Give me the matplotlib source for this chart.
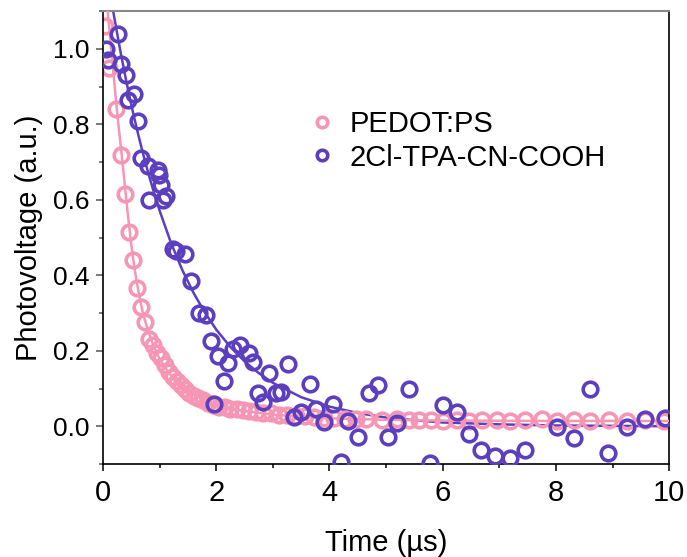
import matplotlib
matplotlib.use("Agg")
import matplotlib.pyplot as plt
from matplotlib.ticker import MultipleLocator

plt.rcParams['font.family'] = ['Liberation Sans', 'DejaVu Sans']

PINK = "#F796B4"
PURPLE = "#5B3FBE"

# PEDOT:PS transient photovoltage
pedot_t = [0.03, 0.10, 0.23, 0.32, 0.39, 0.46, 0.53, 0.60, 0.67, 0.74, 0.81, 0.88, 0.95,
           1.02, 1.09, 1.16, 1.23, 1.30, 1.37, 1.44, 1.52, 1.60, 1.68, 1.76, 1.85, 1.95,
           2.05, 2.15, 2.25, 2.36, 2.47, 2.58, 2.70, 2.83, 2.96, 3.10, 3.25, 3.40, 3.56,
           3.73, 3.90, 4.08, 4.27, 4.47, 4.65, 4.92, 5.19, 5.40, 5.58, 5.80, 6.01, 6.25,
           6.46, 6.69, 6.96, 7.19, 7.45, 7.75, 8.02, 8.32, 8.60, 8.94, 9.26, 9.58, 9.91]
pedot_v = [1.06, 0.95, 0.84, 0.72, 0.615, 0.515, 0.44, 0.367, 0.317, 0.275, 0.232, 0.215, 0.195,
           0.18, 0.163, 0.145, 0.13, 0.12, 0.108, 0.10, 0.088, 0.08, 0.075, 0.07, 0.062, 0.056,
           0.052, 0.05, 0.047, 0.045, 0.043, 0.04, 0.038, 0.036, 0.034, 0.031, 0.03, 0.028, 0.026,
           0.024, 0.023, 0.022, 0.02, 0.02, 0.018, 0.017, 0.018, 0.016, 0.017, 0.016, 0.015, 0.016,
           0.015, 0.017, 0.016, 0.015, 0.016, 0.02, 0.015, 0.016, 0.015, 0.016, 0.015, 0.016, 0.015]

# 2Cl-TPA-CN-COOH transient photovoltage
tpa_t = [0.05, 0.09, 0.27, 0.32, 0.41, 0.44, 0.55, 0.62, 0.67, 0.80, 0.81, 0.97, 0.99, 1.03,
         1.06, 1.12, 1.24, 1.29, 1.45, 1.56, 1.70, 1.82, 1.91, 1.96, 2.03, 2.13, 2.20, 2.30,
         2.42, 2.57, 2.65, 2.74, 2.83, 2.94, 3.06, 3.15, 3.27, 3.38, 3.50, 3.65, 3.77, 3.91,
         4.07, 4.21, 4.33, 4.51, 4.69, 4.85, 5.04, 5.20, 5.40, 5.78, 6.01, 6.25, 6.46, 6.68,
         6.93, 7.18, 7.45, 7.73, 8.02, 8.32, 8.60, 8.92, 9.26, 9.58, 9.93]
tpa_v = [1.00, 0.97, 1.04, 0.96, 0.93, 0.865, 0.88, 0.81, 0.71, 0.69, 0.60, 0.68, 0.667, 0.64,
         0.60, 0.61, 0.47, 0.465, 0.456, 0.385, 0.30, 0.295, 0.225, 0.058, 0.185, 0.12, 0.168, 0.205,
         0.214, 0.195, 0.169, 0.087, 0.063, 0.141, 0.087, 0.09, 0.166, 0.024, 0.037, 0.112, 0.047, 0.012,
         0.06, -0.095, 0.014, -0.028, 0.087, 0.11, -0.029, 0.008, 0.10, -0.098, 0.057, 0.037, -0.021, -0.064,
         -0.078, -0.084, -0.064, -0.13, -0.003, -0.032, 0.098, -0.07, -0.003, 0.018, 0.021]

# fitted decay curves
pedot_fit_t = [0.08, 0.15, 0.20, 0.25, 0.30, 0.35, 0.40, 0.45, 0.50, 0.55, 0.60, 0.65, 0.70,
               0.80, 0.90, 1.00, 1.10, 1.20, 1.30, 1.40, 1.60, 1.80, 2.00, 2.25, 2.50, 3.00,
               3.50, 4.00, 5.00, 6.00, 8.00, 10.0]
pedot_fit_v = [1.10, 0.99, 0.91, 0.83, 0.76, 0.69, 0.615, 0.545, 0.48, 0.425, 0.378, 0.338, 0.302,
               0.25, 0.21, 0.178, 0.155, 0.135, 0.12, 0.105, 0.085, 0.069, 0.057, 0.047, 0.040, 0.031,
               0.025, 0.021, 0.017, 0.015, 0.014, 0.014]

tpa_fit_t = [0.12, 0.2, 0.3, 0.4, 0.5, 0.6, 0.7, 0.8, 0.9, 1.0, 1.2, 1.4, 1.6, 1.8, 2.0, 2.25,
             2.5, 2.75, 3.0, 3.5, 4.0, 4.5, 5.0, 5.5, 6.0, 7.0, 8.0, 9.0, 10.0]
tpa_fit_v = [1.15, 1.082, 0.999, 0.922, 0.851, 0.786, 0.726, 0.670, 0.619, 0.571, 0.486, 0.414,
             0.353, 0.301, 0.256, 0.210, 0.172, 0.141, 0.115, 0.077, 0.052, 0.035, 0.023, 0.016,
             0.010, 0.005, 0.002, 0.001, 0.0]

fig = plt.figure(figsize=(6.87, 5.57), dpi=100)
ax = fig.add_axes([0.150, 0.167, 0.824, 0.813])

marker_kw = dict(marker="o", linestyle="none", markersize=10.5, markerfacecolor="none",
                 markeredgewidth=2.6, clip_on=True)

ax.plot(tpa_fit_t, tpa_fit_v, color=PURPLE, lw=1.8, zorder=1)
ax.plot(pedot_t, pedot_v, markeredgecolor=PINK, label="PEDOT:PS", zorder=2, **marker_kw)
ax.plot(pedot_fit_t, pedot_fit_v, color=PINK, lw=1.8, zorder=3)
ax.plot(tpa_t, tpa_v, markeredgecolor=PURPLE, label="2Cl-TPA-CN-COOH", zorder=4, **marker_kw)

ax.set_xlim(0, 10)
ax.set_ylim(-0.1, 1.1)
ax.xaxis.set_major_locator(MultipleLocator(2))
ax.xaxis.set_minor_locator(MultipleLocator(1))
ax.yaxis.set_major_locator(MultipleLocator(0.2))
ax.yaxis.set_minor_locator(MultipleLocator(0.1))

ax.tick_params(axis="x", which="major", direction="out", length=5, width=1.1, labelsize=21, pad=6)
ax.tick_params(axis="x", which="minor", direction="out", length=3, width=1.1)
ax.tick_params(axis="y", which="major", direction="out", length=5, width=1.1, labelsize=19,
               pad=5, color="#555555")
ax.tick_params(axis="y", which="minor", direction="out", length=3, width=1.1, color="#555555")

for side in ["left", "bottom", "right"]:
    ax.spines[side].set_linewidth(1.2)
ax.spines["top"].set_linewidth(1.5)
ax.spines["top"].set_color("#888888")

ax.set_xlabel("Time (\u00b5s)", fontsize=21, labelpad=16)
ax.set_ylabel("Photovoltage (a.u.)", fontsize=21, labelpad=7)

ax.legend(loc="upper left", bbox_to_anchor=(0.361, 0.782), frameon=False, fontsize=21,
          markerscale=0.72, handlelength=1.0, handletextpad=0.45, labelspacing=0.2,
          borderpad=0, borderaxespad=0)

fig.savefig("out.png", dpi=100)
